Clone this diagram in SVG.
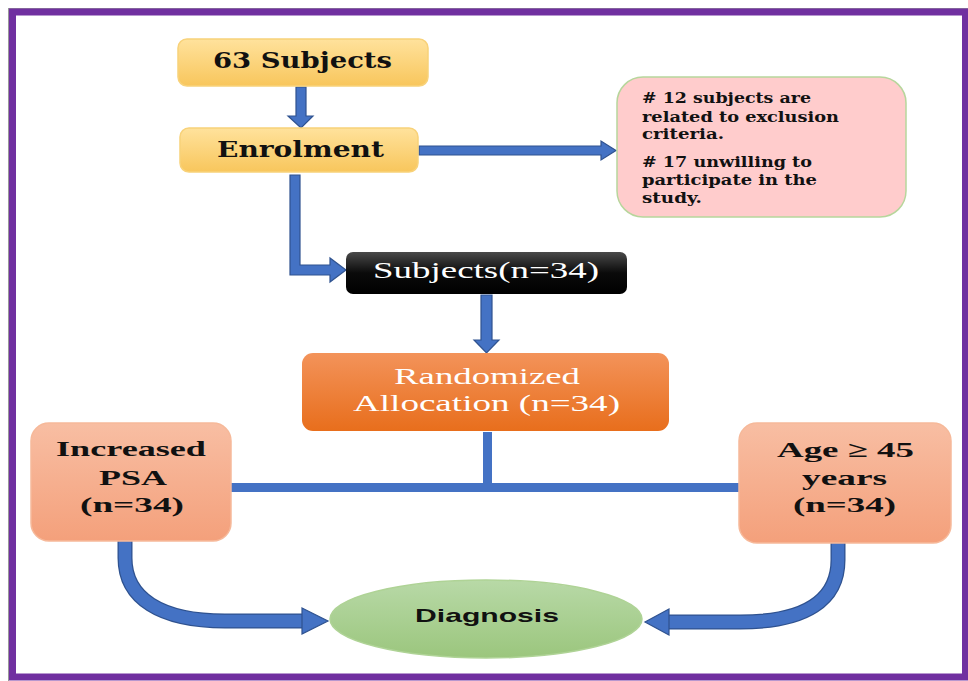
<svg xmlns="http://www.w3.org/2000/svg" width="968" height="681" viewBox="0 0 968 681">
<defs>
<linearGradient id="gY" x1="0" y1="0" x2="0" y2="1"><stop offset="0" stop-color="#FFE29C"/><stop offset="1" stop-color="#F8C65C"/></linearGradient>
<linearGradient id="gK" x1="0" y1="0" x2="0" y2="1"><stop offset="0" stop-color="#4a4a4a"/><stop offset="0.5" stop-color="#0a0a0a"/><stop offset="1" stop-color="#000"/></linearGradient>
<linearGradient id="gO" x1="0" y1="0" x2="0" y2="1"><stop offset="0" stop-color="#F3935A"/><stop offset="1" stop-color="#E86E1C"/></linearGradient>
<linearGradient id="gS" x1="0" y1="0" x2="0" y2="1"><stop offset="0" stop-color="#F8BEA3"/><stop offset="1" stop-color="#F4A07B"/></linearGradient>
<linearGradient id="gG" x1="0" y1="0" x2="0" y2="1"><stop offset="0" stop-color="#B8D9A7"/><stop offset="1" stop-color="#9BC67D"/></linearGradient>
</defs>
<style>
.ser{font-family:"DejaVu Serif","Liberation Serif",serif;font-weight:bold;fill:#111}
.rom{font-family:"Liberation Serif","Times New Roman",serif;fill:#fff}
.bs{font-family:"Liberation Serif","Times New Roman",serif;font-weight:bold;fill:#111}
.sans{font-family:"Liberation Sans",Arial,sans-serif;font-weight:bold;fill:#111}
.arr{fill:#4472C4;stroke:#2F528F;stroke-width:1.2}
.cv-o{fill:none;stroke:#2F528F;stroke-width:15}
.cv-i{fill:none;stroke:#4472C4;stroke-width:12.5}
.ln{stroke:#4472C4;stroke-width:9}
</style>
<rect x="0" y="0" width="968" height="681" fill="#fff"/>
<rect x="8.5" y="8.5" width="962" height="675" fill="none" stroke="#999" stroke-width="1"/>
<rect x="12.5" y="12" width="953" height="665" fill="none" stroke="#7030A0" stroke-width="7"/>

<g id="connectors">
<polygon class="arr" points="296,87 306,87 306,116 313,116 301,128 288,116 296,116"/>
<polygon class="arr" points="419,146 601,146 601,141 616,150.5 601,160 601,155 419,155"/>
<polygon class="arr" points="290,175 300,175 300,265 330,265 330,258 346,270 330,282 330,275 290,275"/>
<polygon class="arr" points="481,295 492,295 492,340 499,340 486.5,353 474,340 481,340"/>
<line class="ln" x1="487.5" y1="432" x2="487.5" y2="487"/>
<line class="ln" x1="231" y1="487.5" x2="739" y2="487.5"/>
<path class="cv-o" d="M125,541 L125,558 C125,598 160,621 225,621 L304,621"/>
<path class="cv-i" d="M125,541 L125,558 C125,598 160,621 225,621 L305,621"/>
<polygon class="arr" points="302,608 328,621 302,634"/>
<path class="cv-o" d="M838,543 L838,560 C838,600 806,622 740,622 L669,622"/>
<path class="cv-i" d="M838,543 L838,560 C838,600 806,622 740,622 L668,622"/>
<polygon class="arr" points="669,609 645,622 669,635"/>
</g>

<g id="n63">
<rect x="178" y="39" width="250" height="47" rx="9" fill="url(#gY)" stroke="#F8D27A" stroke-width="1.5"/>
<text class="ser" x="302.5" y="68" font-size="23" text-anchor="middle" textLength="179" lengthAdjust="spacingAndGlyphs">63 Subjects</text>
</g>
<g id="enrol">
<rect x="180" y="128" width="238" height="44" rx="9" fill="url(#gY)" stroke="#F8D27A" stroke-width="1.5"/>
<text class="ser" x="300.5" y="157" font-size="22" text-anchor="middle" textLength="167" lengthAdjust="spacingAndGlyphs">Enrolment</text>
</g>
<g id="excl">
<rect x="617" y="77" width="289" height="140" rx="26" fill="#FFCCCC" stroke="#B7D69C" stroke-width="1.5"/>
<text class="ser" font-size="15">
<tspan x="642" y="103" textLength="169" lengthAdjust="spacingAndGlyphs"># 12 subjects are</tspan>
<tspan x="642" y="122" textLength="197" lengthAdjust="spacingAndGlyphs">related to exclusion</tspan>
<tspan x="642" y="139" textLength="82" lengthAdjust="spacingAndGlyphs">criteria.</tspan>
<tspan x="642" y="167" textLength="170" lengthAdjust="spacingAndGlyphs"># 17 unwilling to</tspan>
<tspan x="642" y="185" textLength="175" lengthAdjust="spacingAndGlyphs">participate in the</tspan>
<tspan x="642" y="203" textLength="60" lengthAdjust="spacingAndGlyphs">study.</tspan>
</text>
</g>
<g id="subj">
<rect x="346" y="252" width="281" height="42" rx="7" fill="url(#gK)"/>
<text class="rom" x="486" y="278" font-size="23" text-anchor="middle" textLength="226" lengthAdjust="spacingAndGlyphs">Subjects(n=34)</text>
</g>
<g id="rand">
<rect x="302" y="353" width="367" height="78" rx="11" fill="url(#gO)"/>
<text class="rom" x="487" y="384" font-size="24" text-anchor="middle" textLength="186" lengthAdjust="spacingAndGlyphs">Randomized</text>
<text class="rom" x="486.5" y="411" font-size="24" text-anchor="middle" textLength="267" lengthAdjust="spacingAndGlyphs">Allocation (n=34)</text>
</g>
<g id="psa">
<rect x="31" y="423" width="200" height="118" rx="18" fill="url(#gS)" stroke="#F6B99A" stroke-width="1.5"/>
<text class="bs" x="131" y="456" font-size="22" text-anchor="middle" textLength="150" lengthAdjust="spacingAndGlyphs">Increased</text>
<text class="bs" x="133" y="485" font-size="22" text-anchor="middle" textLength="68" lengthAdjust="spacingAndGlyphs">PSA</text>
<text class="bs" x="132" y="512" font-size="22" text-anchor="middle" textLength="104" lengthAdjust="spacingAndGlyphs">(n=34)</text>
</g>
<g id="age">
<rect x="739" y="423" width="212" height="120" rx="18" fill="url(#gS)" stroke="#F6B99A" stroke-width="1.5"/>
<text class="bs" x="845.5" y="457" font-size="22" text-anchor="middle" textLength="137" lengthAdjust="spacingAndGlyphs">Age ≥ 45</text>
<text class="bs" x="844.5" y="485" font-size="22" text-anchor="middle" textLength="85" lengthAdjust="spacingAndGlyphs">years</text>
<text class="bs" x="844.5" y="512" font-size="22" text-anchor="middle" textLength="103" lengthAdjust="spacingAndGlyphs">(n=34)</text>
</g>
<g id="diag">
<ellipse cx="486" cy="619" rx="156" ry="39" fill="url(#gG)" stroke="#AFD396" stroke-width="1.5"/>
<text class="sans" x="487" y="622" font-size="19" text-anchor="middle" textLength="144" lengthAdjust="spacingAndGlyphs">Diagnosis</text>
</g>
</svg>
